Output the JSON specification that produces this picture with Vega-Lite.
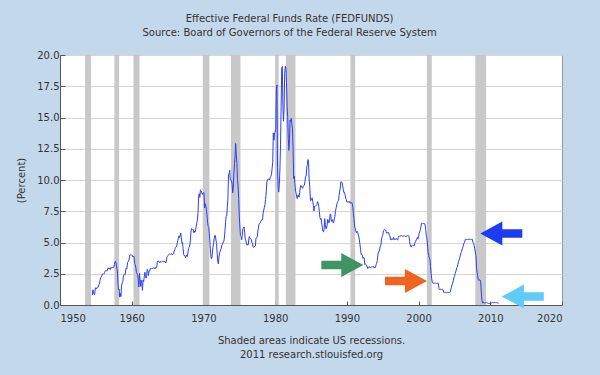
{
  "$schema": "https://vega.github.io/schema/vega-lite/v6.json",
  "autosize": {"type": "none"},
  "width": 502,
  "height": 250,
  "padding": {"left": 60, "top": 55, "right": 38, "bottom": 70},
  "background": "#c4d8ec",
  "title": {
    "text": ["Effective Federal Funds Rate (FEDFUNDS)", "Source: Board of Governors of the Federal Reserve System"],
    "font": "DejaVu Sans", "fontSize": 10, "fontWeight": "normal", "color": "#333333",
    "lineHeight": 14, "anchor": "middle", "frame": "bounds", "offset": 12
  },
  "config": {
    "view": {"fill": "white", "stroke": "#999999", "strokeWidth": 1},
    "axis": {
      "labelFont": "DejaVu Sans", "labelFontSize": 10, "labelColor": "#333333",
      "titleFont": "DejaVu Sans", "titleFontSize": 10, "titleColor": "#333333", "titleFontWeight": "normal",
      "domainColor": "#555555", "tickColor": "#555555", "gridColor": "#d6d6d6", "labelOverlap": false
    },
    "axisX": {"grid": false, "tickSize": -4, "labelPadding": 12, "titlePadding": 12, "titleLineHeight": 14},
    "axisY": {"grid": true, "tickSize": -5, "labelPadding": 6, "titlePadding": 10}
  },
  "datasets": {
    "rec": [
      {"s": "1953-07-01", "e": "1954-05-01"},
      {"s": "1957-08-01", "e": "1958-04-01"},
      {"s": "1960-04-01", "e": "1961-02-01"},
      {"s": "1969-12-01", "e": "1970-11-01"},
      {"s": "1973-11-01", "e": "1975-03-01"},
      {"s": "1980-01-01", "e": "1980-07-01"},
      {"s": "1981-07-01", "e": "1982-11-01"},
      {"s": "1990-07-01", "e": "1991-03-01"},
      {"s": "2001-03-01", "e": "2001-11-01"},
      {"s": "2007-12-01", "e": "2009-06-01"}
    ],
    "arrows": [
      {"name": "1993 low", "dir": "right", "d": "1989-05-15", "v": 3.2},
      {"name": "2003 low", "dir": "right", "d": "1998-04-01", "v": 1.92},
      {"name": "2007 high", "dir": "left", "d": "2011-07-15", "v": 5.72},
      {"name": "2009 zero", "dir": "left", "d": "2014-07-15", "v": 0.68}
    ],
    "ff": [
      {"d":"1954-07-01","v":0.80},{"d":"1954-08-01","v":1.22},{"d":"1954-09-01","v":1.06},{"d":"1954-10-01","v":0.85},{"d":"1954-11-01","v":0.83},{"d":"1954-12-01","v":1.28},
      {"d":"1955-01-01","v":1.39},{"d":"1955-02-01","v":1.29},{"d":"1955-03-01","v":1.35},{"d":"1955-04-01","v":1.43},{"d":"1955-05-01","v":1.43},{"d":"1955-06-01","v":1.64},{"d":"1955-07-01","v":1.68},{"d":"1955-08-01","v":1.96},{"d":"1955-09-01","v":2.18},{"d":"1955-10-01","v":2.24},{"d":"1955-11-01","v":2.35},{"d":"1955-12-01","v":2.48},
      {"d":"1956-01-01","v":2.45},{"d":"1956-02-01","v":2.50},{"d":"1956-03-01","v":2.50},{"d":"1956-04-01","v":2.62},{"d":"1956-05-01","v":2.75},{"d":"1956-06-01","v":2.71},{"d":"1956-07-01","v":2.75},{"d":"1956-08-01","v":2.73},{"d":"1956-09-01","v":2.95},{"d":"1956-10-01","v":2.96},{"d":"1956-11-01","v":2.88},{"d":"1956-12-01","v":2.94},
      {"d":"1957-01-01","v":2.84},{"d":"1957-02-01","v":3.00},{"d":"1957-03-01","v":2.96},{"d":"1957-04-01","v":3.00},{"d":"1957-05-01","v":3.00},{"d":"1957-06-01","v":3.00},{"d":"1957-07-01","v":2.99},{"d":"1957-08-01","v":3.24},{"d":"1957-09-01","v":3.47},{"d":"1957-10-01","v":3.50},{"d":"1957-11-01","v":3.28},{"d":"1957-12-01","v":2.98},
      {"d":"1958-01-01","v":2.72},{"d":"1958-02-01","v":1.67},{"d":"1958-03-01","v":1.20},{"d":"1958-04-01","v":1.26},{"d":"1958-05-01","v":0.63},{"d":"1958-06-01","v":0.93},{"d":"1958-07-01","v":0.68},{"d":"1958-08-01","v":1.53},{"d":"1958-09-01","v":1.76},{"d":"1958-10-01","v":1.80},{"d":"1958-11-01","v":2.27},{"d":"1958-12-01","v":2.42},
      {"d":"1959-01-01","v":2.48},{"d":"1959-02-01","v":2.43},{"d":"1959-03-01","v":2.80},{"d":"1959-04-01","v":2.96},{"d":"1959-05-01","v":2.90},{"d":"1959-06-01","v":3.39},{"d":"1959-07-01","v":3.47},{"d":"1959-08-01","v":3.50},{"d":"1959-09-01","v":3.76},{"d":"1959-10-01","v":3.98},{"d":"1959-11-01","v":4.00},{"d":"1959-12-01","v":3.99},
      {"d":"1960-01-01","v":3.99},{"d":"1960-02-01","v":3.97},{"d":"1960-03-01","v":3.84},{"d":"1960-04-01","v":3.92},{"d":"1960-05-01","v":3.85},{"d":"1960-06-01","v":3.32},{"d":"1960-07-01","v":3.23},{"d":"1960-08-01","v":2.98},{"d":"1960-09-01","v":2.60},{"d":"1960-10-01","v":2.47},{"d":"1960-11-01","v":2.44},{"d":"1960-12-01","v":1.98},
      {"d":"1961-01-01","v":1.45},{"d":"1961-02-01","v":2.54},{"d":"1961-03-01","v":2.02},{"d":"1961-04-01","v":1.49},{"d":"1961-05-01","v":1.98},{"d":"1961-06-01","v":1.73},{"d":"1961-07-01","v":1.17},{"d":"1961-08-01","v":2.00},{"d":"1961-09-01","v":1.88},{"d":"1961-10-01","v":2.26},{"d":"1961-11-01","v":2.62},{"d":"1961-12-01","v":2.33},
      {"d":"1962-01-01","v":2.15},{"d":"1962-02-01","v":2.37},{"d":"1962-03-01","v":2.85},{"d":"1962-04-01","v":2.78},{"d":"1962-05-01","v":2.36},{"d":"1962-06-01","v":2.68},{"d":"1962-07-01","v":2.71},{"d":"1962-08-01","v":2.93},{"d":"1962-09-01","v":2.90},{"d":"1962-10-01","v":2.90},{"d":"1962-11-01","v":2.94},{"d":"1962-12-01","v":2.93},
      {"d":"1963-01-01","v":2.92},{"d":"1963-02-01","v":3.00},{"d":"1963-03-01","v":2.98},{"d":"1963-04-01","v":2.90},{"d":"1963-05-01","v":3.00},{"d":"1963-06-01","v":2.99},{"d":"1963-07-01","v":3.02},{"d":"1963-08-01","v":3.49},{"d":"1963-09-01","v":3.48},{"d":"1963-10-01","v":3.50},{"d":"1963-11-01","v":3.48},{"d":"1963-12-01","v":3.38},
      {"d":"1964-01-01","v":3.48},{"d":"1964-02-01","v":3.48},{"d":"1964-03-01","v":3.43},{"d":"1964-04-01","v":3.47},{"d":"1964-05-01","v":3.50},{"d":"1964-06-01","v":3.50},{"d":"1964-07-01","v":3.42},{"d":"1964-08-01","v":3.50},{"d":"1964-09-01","v":3.45},{"d":"1964-10-01","v":3.36},{"d":"1964-11-01","v":3.52},{"d":"1964-12-01","v":3.85},
      {"d":"1965-01-01","v":3.90},{"d":"1965-02-01","v":3.98},{"d":"1965-03-01","v":4.04},{"d":"1965-04-01","v":4.09},{"d":"1965-05-01","v":4.10},{"d":"1965-06-01","v":4.04},{"d":"1965-07-01","v":4.09},{"d":"1965-08-01","v":4.12},{"d":"1965-09-01","v":4.01},{"d":"1965-10-01","v":4.08},{"d":"1965-11-01","v":4.10},{"d":"1965-12-01","v":4.32},
      {"d":"1966-01-01","v":4.42},{"d":"1966-02-01","v":4.60},{"d":"1966-03-01","v":4.65},{"d":"1966-04-01","v":4.67},{"d":"1966-05-01","v":4.90},{"d":"1966-06-01","v":5.17},{"d":"1966-07-01","v":5.30},{"d":"1966-08-01","v":5.53},{"d":"1966-09-01","v":5.40},{"d":"1966-10-01","v":5.53},{"d":"1966-11-01","v":5.76},{"d":"1966-12-01","v":5.40},
      {"d":"1967-01-01","v":4.94},{"d":"1967-02-01","v":5.00},{"d":"1967-03-01","v":4.53},{"d":"1967-04-01","v":4.05},{"d":"1967-05-01","v":3.94},{"d":"1967-06-01","v":3.98},{"d":"1967-07-01","v":3.79},{"d":"1967-08-01","v":3.90},{"d":"1967-09-01","v":3.99},{"d":"1967-10-01","v":3.88},{"d":"1967-11-01","v":4.13},{"d":"1967-12-01","v":4.51},
      {"d":"1968-01-01","v":4.60},{"d":"1968-02-01","v":4.71},{"d":"1968-03-01","v":5.05},{"d":"1968-04-01","v":5.76},{"d":"1968-05-01","v":6.11},{"d":"1968-06-01","v":6.07},{"d":"1968-07-01","v":6.02},{"d":"1968-08-01","v":6.03},{"d":"1968-09-01","v":5.78},{"d":"1968-10-01","v":5.91},{"d":"1968-11-01","v":5.82},{"d":"1968-12-01","v":6.02},
      {"d":"1969-01-01","v":6.30},{"d":"1969-02-01","v":6.61},{"d":"1969-03-01","v":6.79},{"d":"1969-04-01","v":7.41},{"d":"1969-05-01","v":8.67},{"d":"1969-06-01","v":8.90},{"d":"1969-07-01","v":8.61},{"d":"1969-08-01","v":9.19},{"d":"1969-09-01","v":9.15},{"d":"1969-10-01","v":9.00},{"d":"1969-11-01","v":8.85},{"d":"1969-12-01","v":8.97},
      {"d":"1970-01-01","v":8.98},{"d":"1970-02-01","v":8.98},{"d":"1970-03-01","v":7.76},{"d":"1970-04-01","v":8.10},{"d":"1970-05-01","v":7.95},{"d":"1970-06-01","v":7.61},{"d":"1970-07-01","v":7.21},{"d":"1970-08-01","v":6.61},{"d":"1970-09-01","v":6.29},{"d":"1970-10-01","v":6.20},{"d":"1970-11-01","v":5.60},{"d":"1970-12-01","v":4.90},
      {"d":"1971-01-01","v":4.14},{"d":"1971-02-01","v":3.72},{"d":"1971-03-01","v":3.71},{"d":"1971-04-01","v":4.16},{"d":"1971-05-01","v":4.63},{"d":"1971-06-01","v":4.91},{"d":"1971-07-01","v":5.31},{"d":"1971-08-01","v":5.56},{"d":"1971-09-01","v":5.55},{"d":"1971-10-01","v":5.20},{"d":"1971-11-01","v":4.91},{"d":"1971-12-01","v":4.14},
      {"d":"1972-01-01","v":3.50},{"d":"1972-02-01","v":3.29},{"d":"1972-03-01","v":3.83},{"d":"1972-04-01","v":4.17},{"d":"1972-05-01","v":4.27},{"d":"1972-06-01","v":4.46},{"d":"1972-07-01","v":4.55},{"d":"1972-08-01","v":4.80},{"d":"1972-09-01","v":4.87},{"d":"1972-10-01","v":5.04},{"d":"1972-11-01","v":5.06},{"d":"1972-12-01","v":5.33},
      {"d":"1973-01-01","v":5.94},{"d":"1973-02-01","v":6.58},{"d":"1973-03-01","v":7.09},{"d":"1973-04-01","v":7.12},{"d":"1973-05-01","v":7.84},{"d":"1973-06-01","v":8.49},{"d":"1973-07-01","v":10.40},{"d":"1973-08-01","v":10.50},{"d":"1973-09-01","v":10.78},{"d":"1973-10-01","v":10.01},{"d":"1973-11-01","v":10.03},{"d":"1973-12-01","v":9.95},
      {"d":"1974-01-01","v":9.65},{"d":"1974-02-01","v":8.97},{"d":"1974-03-01","v":9.35},{"d":"1974-04-01","v":10.51},{"d":"1974-05-01","v":11.31},{"d":"1974-06-01","v":11.93},{"d":"1974-07-01","v":12.92},{"d":"1974-08-01","v":12.01},{"d":"1974-09-01","v":11.34},{"d":"1974-10-01","v":10.06},{"d":"1974-11-01","v":9.45},{"d":"1974-12-01","v":8.53},
      {"d":"1975-01-01","v":7.13},{"d":"1975-02-01","v":6.24},{"d":"1975-03-01","v":5.54},{"d":"1975-04-01","v":5.49},{"d":"1975-05-01","v":5.22},{"d":"1975-06-01","v":5.55},{"d":"1975-07-01","v":6.10},{"d":"1975-08-01","v":6.14},{"d":"1975-09-01","v":6.24},{"d":"1975-10-01","v":5.82},{"d":"1975-11-01","v":5.22},{"d":"1975-12-01","v":5.20},
      {"d":"1976-01-01","v":4.87},{"d":"1976-02-01","v":4.77},{"d":"1976-03-01","v":4.84},{"d":"1976-04-01","v":4.82},{"d":"1976-05-01","v":5.29},{"d":"1976-06-01","v":5.48},{"d":"1976-07-01","v":5.31},{"d":"1976-08-01","v":5.29},{"d":"1976-09-01","v":5.25},{"d":"1976-10-01","v":5.02},{"d":"1976-11-01","v":4.95},{"d":"1976-12-01","v":4.65},
      {"d":"1977-01-01","v":4.61},{"d":"1977-02-01","v":4.68},{"d":"1977-03-01","v":4.69},{"d":"1977-04-01","v":4.73},{"d":"1977-05-01","v":5.35},{"d":"1977-06-01","v":5.39},{"d":"1977-07-01","v":5.42},{"d":"1977-08-01","v":5.90},{"d":"1977-09-01","v":6.14},{"d":"1977-10-01","v":6.47},{"d":"1977-11-01","v":6.51},{"d":"1977-12-01","v":6.56},
      {"d":"1978-01-01","v":6.70},{"d":"1978-02-01","v":6.78},{"d":"1978-03-01","v":6.79},{"d":"1978-04-01","v":6.89},{"d":"1978-05-01","v":7.36},{"d":"1978-06-01","v":7.60},{"d":"1978-07-01","v":7.81},{"d":"1978-08-01","v":8.04},{"d":"1978-09-01","v":8.45},{"d":"1978-10-01","v":8.96},{"d":"1978-11-01","v":9.76},{"d":"1978-12-01","v":10.03},
      {"d":"1979-01-01","v":10.07},{"d":"1979-02-01","v":10.06},{"d":"1979-03-01","v":10.09},{"d":"1979-04-01","v":10.01},{"d":"1979-05-01","v":10.24},{"d":"1979-06-01","v":10.29},{"d":"1979-07-01","v":10.47},{"d":"1979-08-01","v":10.94},{"d":"1979-09-01","v":11.43},{"d":"1979-10-01","v":13.77},{"d":"1979-11-01","v":13.18},{"d":"1979-12-01","v":13.78},
      {"d":"1980-01-01","v":13.82},{"d":"1980-02-01","v":14.13},{"d":"1980-03-01","v":17.19},{"d":"1980-04-01","v":17.61},{"d":"1980-05-01","v":10.98},{"d":"1980-06-01","v":9.47},{"d":"1980-07-01","v":9.03},{"d":"1980-08-01","v":9.61},{"d":"1980-09-01","v":10.87},{"d":"1980-10-01","v":12.81},{"d":"1980-11-01","v":15.85},{"d":"1980-12-01","v":18.90},
      {"d":"1981-01-01","v":19.08},{"d":"1981-02-01","v":15.93},{"d":"1981-03-01","v":14.70},{"d":"1981-04-01","v":15.72},{"d":"1981-05-01","v":18.52},{"d":"1981-06-01","v":19.10},{"d":"1981-07-01","v":19.04},{"d":"1981-08-01","v":17.82},{"d":"1981-09-01","v":15.87},{"d":"1981-10-01","v":15.08},{"d":"1981-11-01","v":13.31},{"d":"1981-12-01","v":12.37},
      {"d":"1982-01-01","v":13.22},{"d":"1982-02-01","v":14.78},{"d":"1982-03-01","v":14.68},{"d":"1982-04-01","v":14.94},{"d":"1982-05-01","v":14.45},{"d":"1982-06-01","v":14.15},{"d":"1982-07-01","v":12.59},{"d":"1982-08-01","v":10.12},{"d":"1982-09-01","v":10.31},{"d":"1982-10-01","v":9.71},{"d":"1982-11-01","v":9.20},{"d":"1982-12-01","v":8.95},
      {"d":"1983-01-01","v":8.68},{"d":"1983-02-01","v":8.51},{"d":"1983-03-01","v":8.77},{"d":"1983-04-01","v":8.80},{"d":"1983-05-01","v":8.63},{"d":"1983-06-01","v":8.98},{"d":"1983-07-01","v":9.37},{"d":"1983-08-01","v":9.56},{"d":"1983-09-01","v":9.45},{"d":"1983-10-01","v":9.48},{"d":"1983-11-01","v":9.34},{"d":"1983-12-01","v":9.47},
      {"d":"1984-01-01","v":9.56},{"d":"1984-02-01","v":9.59},{"d":"1984-03-01","v":9.91},{"d":"1984-04-01","v":10.29},{"d":"1984-05-01","v":10.32},{"d":"1984-06-01","v":11.06},{"d":"1984-07-01","v":11.23},{"d":"1984-08-01","v":11.64},{"d":"1984-09-01","v":11.30},{"d":"1984-10-01","v":9.99},{"d":"1984-11-01","v":9.43},{"d":"1984-12-01","v":8.38},
      {"d":"1985-01-01","v":8.35},{"d":"1985-02-01","v":8.50},{"d":"1985-03-01","v":8.58},{"d":"1985-04-01","v":8.27},{"d":"1985-05-01","v":7.97},{"d":"1985-06-01","v":7.53},{"d":"1985-07-01","v":7.88},{"d":"1985-08-01","v":7.90},{"d":"1985-09-01","v":7.92},{"d":"1985-10-01","v":7.99},{"d":"1985-11-01","v":8.05},{"d":"1985-12-01","v":8.27},
      {"d":"1986-01-01","v":8.14},{"d":"1986-02-01","v":7.86},{"d":"1986-03-01","v":7.48},{"d":"1986-04-01","v":6.99},{"d":"1986-05-01","v":6.85},{"d":"1986-06-01","v":6.92},{"d":"1986-07-01","v":6.56},{"d":"1986-08-01","v":6.17},{"d":"1986-09-01","v":5.89},{"d":"1986-10-01","v":5.85},{"d":"1986-11-01","v":6.04},{"d":"1986-12-01","v":6.91},
      {"d":"1987-01-01","v":6.43},{"d":"1987-02-01","v":6.10},{"d":"1987-03-01","v":6.13},{"d":"1987-04-01","v":6.37},{"d":"1987-05-01","v":6.85},{"d":"1987-06-01","v":6.73},{"d":"1987-07-01","v":6.58},{"d":"1987-08-01","v":6.73},{"d":"1987-09-01","v":7.22},{"d":"1987-10-01","v":7.29},{"d":"1987-11-01","v":6.69},{"d":"1987-12-01","v":6.77},
      {"d":"1988-01-01","v":6.83},{"d":"1988-02-01","v":6.58},{"d":"1988-03-01","v":6.58},{"d":"1988-04-01","v":6.87},{"d":"1988-05-01","v":7.09},{"d":"1988-06-01","v":7.51},{"d":"1988-07-01","v":7.75},{"d":"1988-08-01","v":8.01},{"d":"1988-09-01","v":8.19},{"d":"1988-10-01","v":8.30},{"d":"1988-11-01","v":8.35},{"d":"1988-12-01","v":8.76},
      {"d":"1989-01-01","v":9.12},{"d":"1989-02-01","v":9.36},{"d":"1989-03-01","v":9.85},{"d":"1989-04-01","v":9.84},{"d":"1989-05-01","v":9.81},{"d":"1989-06-01","v":9.53},{"d":"1989-07-01","v":9.24},{"d":"1989-08-01","v":8.99},{"d":"1989-09-01","v":9.02},{"d":"1989-10-01","v":8.84},{"d":"1989-11-01","v":8.55},{"d":"1989-12-01","v":8.45},
      {"d":"1990-01-01","v":8.23},{"d":"1990-02-01","v":8.24},{"d":"1990-03-01","v":8.28},{"d":"1990-04-01","v":8.26},{"d":"1990-05-01","v":8.18},{"d":"1990-06-01","v":8.29},{"d":"1990-07-01","v":8.15},{"d":"1990-08-01","v":8.13},{"d":"1990-09-01","v":8.20},{"d":"1990-10-01","v":8.11},{"d":"1990-11-01","v":7.81},{"d":"1990-12-01","v":7.31},
      {"d":"1991-01-01","v":6.91},{"d":"1991-02-01","v":6.25},{"d":"1991-03-01","v":6.12},{"d":"1991-04-01","v":5.91},{"d":"1991-05-01","v":5.78},{"d":"1991-06-01","v":5.90},{"d":"1991-07-01","v":5.82},{"d":"1991-08-01","v":5.66},{"d":"1991-09-01","v":5.45},{"d":"1991-10-01","v":5.21},{"d":"1991-11-01","v":4.81},{"d":"1991-12-01","v":4.43},
      {"d":"1992-01-01","v":4.03},{"d":"1992-02-01","v":4.06},{"d":"1992-03-01","v":3.98},{"d":"1992-04-01","v":3.73},{"d":"1992-05-01","v":3.82},{"d":"1992-06-01","v":3.76},{"d":"1992-07-01","v":3.25},{"d":"1992-08-01","v":3.30},{"d":"1992-09-01","v":3.22},{"d":"1992-10-01","v":3.10},{"d":"1992-11-01","v":3.09},{"d":"1992-12-01","v":2.92},
      {"d":"1993-01-01","v":3.02},{"d":"1993-02-01","v":3.03},{"d":"1993-03-01","v":3.07},{"d":"1993-04-01","v":2.96},{"d":"1993-05-01","v":3.00},{"d":"1993-06-01","v":3.04},{"d":"1993-07-01","v":3.06},{"d":"1993-08-01","v":3.03},{"d":"1993-09-01","v":3.09},{"d":"1993-10-01","v":2.99},{"d":"1993-11-01","v":3.02},{"d":"1993-12-01","v":2.96},
      {"d":"1994-01-01","v":3.05},{"d":"1994-02-01","v":3.25},{"d":"1994-03-01","v":3.34},{"d":"1994-04-01","v":3.56},{"d":"1994-05-01","v":4.01},{"d":"1994-06-01","v":4.25},{"d":"1994-07-01","v":4.26},{"d":"1994-08-01","v":4.47},{"d":"1994-09-01","v":4.73},{"d":"1994-10-01","v":4.76},{"d":"1994-11-01","v":5.29},{"d":"1994-12-01","v":5.45},
      {"d":"1995-01-01","v":5.53},{"d":"1995-02-01","v":5.92},{"d":"1995-03-01","v":5.98},{"d":"1995-04-01","v":6.05},{"d":"1995-05-01","v":6.01},{"d":"1995-06-01","v":6.00},{"d":"1995-07-01","v":5.85},{"d":"1995-08-01","v":5.74},{"d":"1995-09-01","v":5.80},{"d":"1995-10-01","v":5.76},{"d":"1995-11-01","v":5.80},{"d":"1995-12-01","v":5.60},
      {"d":"1996-01-01","v":5.56},{"d":"1996-02-01","v":5.22},{"d":"1996-03-01","v":5.31},{"d":"1996-04-01","v":5.22},{"d":"1996-05-01","v":5.24},{"d":"1996-06-01","v":5.27},{"d":"1996-07-01","v":5.40},{"d":"1996-08-01","v":5.22},{"d":"1996-09-01","v":5.30},{"d":"1996-10-01","v":5.24},{"d":"1996-11-01","v":5.31},{"d":"1996-12-01","v":5.29},
      {"d":"1997-01-01","v":5.25},{"d":"1997-02-01","v":5.19},{"d":"1997-03-01","v":5.39},{"d":"1997-04-01","v":5.51},{"d":"1997-05-01","v":5.50},{"d":"1997-06-01","v":5.56},{"d":"1997-07-01","v":5.52},{"d":"1997-08-01","v":5.54},{"d":"1997-09-01","v":5.54},{"d":"1997-10-01","v":5.50},{"d":"1997-11-01","v":5.52},{"d":"1997-12-01","v":5.50},
      {"d":"1998-01-01","v":5.56},{"d":"1998-02-01","v":5.51},{"d":"1998-03-01","v":5.49},{"d":"1998-04-01","v":5.45},{"d":"1998-05-01","v":5.49},{"d":"1998-06-01","v":5.56},{"d":"1998-07-01","v":5.54},{"d":"1998-08-01","v":5.55},{"d":"1998-09-01","v":5.51},{"d":"1998-10-01","v":5.07},{"d":"1998-11-01","v":4.83},{"d":"1998-12-01","v":4.68},
      {"d":"1999-01-01","v":4.63},{"d":"1999-02-01","v":4.76},{"d":"1999-03-01","v":4.81},{"d":"1999-04-01","v":4.74},{"d":"1999-05-01","v":4.74},{"d":"1999-06-01","v":4.76},{"d":"1999-07-01","v":4.99},{"d":"1999-08-01","v":5.07},{"d":"1999-09-01","v":5.22},{"d":"1999-10-01","v":5.20},{"d":"1999-11-01","v":5.42},{"d":"1999-12-01","v":5.30},
      {"d":"2000-01-01","v":5.45},{"d":"2000-02-01","v":5.73},{"d":"2000-03-01","v":5.85},{"d":"2000-04-01","v":6.02},{"d":"2000-05-01","v":6.27},{"d":"2000-06-01","v":6.53},{"d":"2000-07-01","v":6.54},{"d":"2000-08-01","v":6.50},{"d":"2000-09-01","v":6.52},{"d":"2000-10-01","v":6.51},{"d":"2000-11-01","v":6.51},{"d":"2000-12-01","v":6.40},
      {"d":"2001-01-01","v":5.98},{"d":"2001-02-01","v":5.49},{"d":"2001-03-01","v":5.31},{"d":"2001-04-01","v":4.80},{"d":"2001-05-01","v":4.21},{"d":"2001-06-01","v":3.97},{"d":"2001-07-01","v":3.77},{"d":"2001-08-01","v":3.65},{"d":"2001-09-01","v":3.07},{"d":"2001-10-01","v":2.49},{"d":"2001-11-01","v":2.09},{"d":"2001-12-01","v":1.82},
      {"d":"2002-01-01","v":1.73},{"d":"2002-02-01","v":1.74},{"d":"2002-03-01","v":1.73},{"d":"2002-04-01","v":1.75},{"d":"2002-05-01","v":1.75},{"d":"2002-06-01","v":1.75},{"d":"2002-07-01","v":1.73},{"d":"2002-08-01","v":1.74},{"d":"2002-09-01","v":1.75},{"d":"2002-10-01","v":1.75},{"d":"2002-11-01","v":1.34},{"d":"2002-12-01","v":1.24},
      {"d":"2003-01-01","v":1.24},{"d":"2003-02-01","v":1.26},{"d":"2003-03-01","v":1.25},{"d":"2003-04-01","v":1.26},{"d":"2003-05-01","v":1.26},{"d":"2003-06-01","v":1.22},{"d":"2003-07-01","v":1.01},{"d":"2003-08-01","v":1.03},{"d":"2003-09-01","v":1.01},{"d":"2003-10-01","v":1.01},{"d":"2003-11-01","v":1.00},{"d":"2003-12-01","v":0.98},
      {"d":"2004-01-01","v":1.00},{"d":"2004-02-01","v":1.01},{"d":"2004-03-01","v":1.00},{"d":"2004-04-01","v":1.00},{"d":"2004-05-01","v":1.00},{"d":"2004-06-01","v":1.03},{"d":"2004-07-01","v":1.26},{"d":"2004-08-01","v":1.43},{"d":"2004-09-01","v":1.61},{"d":"2004-10-01","v":1.76},{"d":"2004-11-01","v":1.93},{"d":"2004-12-01","v":2.16},
      {"d":"2005-01-01","v":2.28},{"d":"2005-02-01","v":2.50},{"d":"2005-03-01","v":2.63},{"d":"2005-04-01","v":2.79},{"d":"2005-05-01","v":3.00},{"d":"2005-06-01","v":3.04},{"d":"2005-07-01","v":3.26},{"d":"2005-08-01","v":3.50},{"d":"2005-09-01","v":3.62},{"d":"2005-10-01","v":3.78},{"d":"2005-11-01","v":4.00},{"d":"2005-12-01","v":4.16},
      {"d":"2006-01-01","v":4.29},{"d":"2006-02-01","v":4.49},{"d":"2006-03-01","v":4.59},{"d":"2006-04-01","v":4.79},{"d":"2006-05-01","v":4.94},{"d":"2006-06-01","v":4.99},{"d":"2006-07-01","v":5.24},{"d":"2006-08-01","v":5.25},{"d":"2006-09-01","v":5.25},{"d":"2006-10-01","v":5.25},{"d":"2006-11-01","v":5.25},{"d":"2006-12-01","v":5.24},
      {"d":"2007-01-01","v":5.25},{"d":"2007-02-01","v":5.26},{"d":"2007-03-01","v":5.26},{"d":"2007-04-01","v":5.25},{"d":"2007-05-01","v":5.25},{"d":"2007-06-01","v":5.25},{"d":"2007-07-01","v":5.26},{"d":"2007-08-01","v":5.02},{"d":"2007-09-01","v":4.94},{"d":"2007-10-01","v":4.76},{"d":"2007-11-01","v":4.49},{"d":"2007-12-01","v":4.24},
      {"d":"2008-01-01","v":3.94},{"d":"2008-02-01","v":2.98},{"d":"2008-03-01","v":2.61},{"d":"2008-04-01","v":2.28},{"d":"2008-05-01","v":1.98},{"d":"2008-06-01","v":2.00},{"d":"2008-07-01","v":2.01},{"d":"2008-08-01","v":2.00},{"d":"2008-09-01","v":1.81},{"d":"2008-10-01","v":0.97},{"d":"2008-11-01","v":0.39},{"d":"2008-12-01","v":0.16},
      {"d":"2009-01-01","v":0.15},{"d":"2009-02-01","v":0.22},{"d":"2009-03-01","v":0.18},{"d":"2009-04-01","v":0.15},{"d":"2009-05-01","v":0.18},{"d":"2009-06-01","v":0.21},{"d":"2009-07-01","v":0.16},{"d":"2009-08-01","v":0.16},{"d":"2009-09-01","v":0.15},{"d":"2009-10-01","v":0.12},{"d":"2009-11-01","v":0.12},{"d":"2009-12-01","v":0.12},
      {"d":"2010-01-01","v":0.11},{"d":"2010-02-01","v":0.13},{"d":"2010-03-01","v":0.16},{"d":"2010-04-01","v":0.20},{"d":"2010-05-01","v":0.20},{"d":"2010-06-01","v":0.18},{"d":"2010-07-01","v":0.18},{"d":"2010-08-01","v":0.19},{"d":"2010-09-01","v":0.19},{"d":"2010-10-01","v":0.19},{"d":"2010-11-01","v":0.19},{"d":"2010-12-01","v":0.18},
      {"d":"2011-01-01","v":0.17},{"d":"2011-02-01","v":0.16},{"d":"2011-03-01","v":0.14}
    ]
  },
  "layer": [
    {
      "data": {"name": "rec"},
      "mark": {"type": "rect", "color": "#c8c8c8"},
      "encoding": {
        "x": {"field": "s", "type": "temporal", "scale": {"type": "utc", "domain": ["1950-01-01", "2020-01-01"]},
          "title": ["Shaded areas indicate US recessions.", "2011 research.stlouisfed.org"],
          "axis": {"format": "%Y", "values": ["1950-01-01", "1960-01-01", "1970-01-01", "1980-01-01", "1990-01-01", "2000-01-01", "2010-01-01", "2020-01-01"]}},
        "x2": {"field": "e"}
      }
    },
    {
      "data": {"name": "ff"},
      "mark": {"type": "line", "color": "#2c3ef5", "strokeWidth": 1},
      "encoding": {
        "x": {"field": "d", "type": "temporal", "title": ["Shaded areas indicate US recessions.", "2011 research.stlouisfed.org"],
          "axis": {"format": "%Y", "values": ["1950-01-01", "1960-01-01", "1970-01-01", "1980-01-01", "1990-01-01", "2000-01-01", "2010-01-01", "2020-01-01"]}},
        "y": {"field": "v", "type": "quantitative", "scale": {"domain": [0, 20]}, "title": "(Percent)",
          "axis": {"values": [0, 2.5, 5, 7.5, 10, 12.5, 15, 17.5, 20], "format": ".1f"}}
      }
    },
    {
      "data": {"name": "arrows"},
      "mark": {"type": "point", "filled": true, "opacity": 1, "size": 1764, "strokeWidth": 0},
      "encoding": {
        "x": {"field": "d", "type": "temporal", "title": ["Shaded areas indicate US recessions.", "2011 research.stlouisfed.org"],
          "axis": {"format": "%Y", "values": ["1950-01-01", "1960-01-01", "1970-01-01", "1980-01-01", "1990-01-01", "2000-01-01", "2010-01-01", "2020-01-01"]}},
        "y": {"field": "v", "type": "quantitative", "title": "(Percent)",
          "axis": {"values": [0, 2.5, 5, 7.5, 10, 12.5, 15, 17.5, 20], "format": ".1f"}},
        "shape": {"field": "dir", "type": "nominal", "legend": null,
          "scale": {"domain": ["right", "left"], "range": ["M-1,-0.2L-0.05,-0.2L-0.05,-0.57L1,0L-0.05,0.57L-0.05,0.2L-1,0.2Z", "M1,-0.2L0.05,-0.2L0.05,-0.57L-1,0L0.05,0.57L0.05,0.2L1,0.2Z"]}},
        "color": {"field": "name", "type": "nominal", "legend": null,
          "scale": {"domain": ["1993 low", "2003 low", "2007 high", "2009 zero"], "range": ["#3f9463", "#ee6420", "#1c3cf3", "#5ecbf8"]}}
      }
    }
  ]
}
